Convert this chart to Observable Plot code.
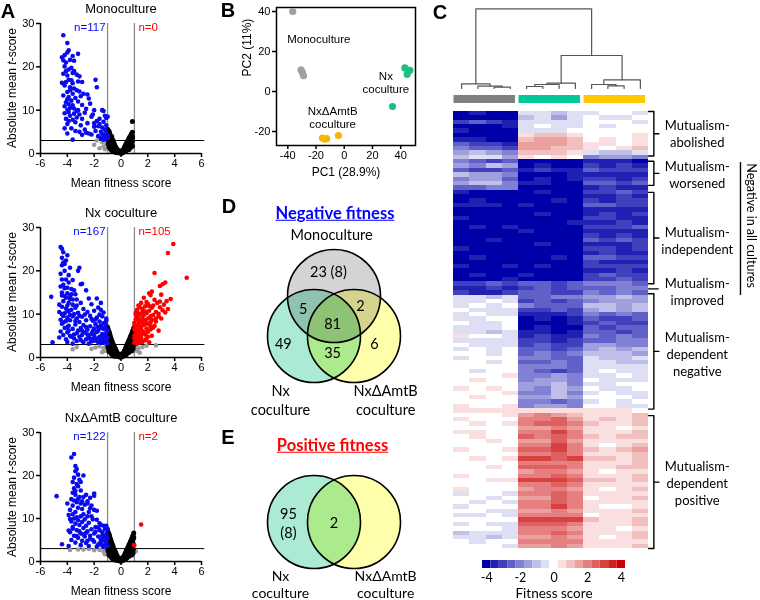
<!DOCTYPE html>
<html><head><meta charset="utf-8">
<script src="https://cdn.jsdelivr.net/npm/d3@7"></script>
<script src="https://cdn.jsdelivr.net/npm/@observablehq/plot@0.6"></script>
<style>
body{margin:0;background:#fff;}
#fig{position:relative;width:760px;height:600px;overflow:hidden;font-family:"Liberation Sans",Arial,sans-serif;}
.lab{position:absolute;transform:translate(-50%,-50%);white-space:nowrap;line-height:1;}
</style></head><body><div id="fig"></div>
<script>
// ---------------- DATA ----------------
const volcanoXTicks = [-6,-4,-2,0,2,4,6];
const volcanoYTicks = [0,10,20,30];
const tThreshold = 3;
const fitThreshold = [-1, 1];

const monoBlue = [[-4.3,27.3],[-4.0,25.5],[-3.9,23.8],[-4.0,23.3],[-4.4,22.2],[-4.2,22.7],[-4.3,21.5],[-4.1,21.0],[-3.2,23.0],[-3.6,22.5],[-3.8,21.6],[-3.5,21.4],[-4.2,20.1],[-3.7,19.8],[-3.9,19.4],[-3.5,19.0],[-4.3,18.4],[-4.0,18.0],[-3.6,18.6],[-3.3,18.2],[-3.1,17.8],[-3.9,17.0],[-3.7,16.9],[-4.1,16.5],[-3.2,16.6],[-1.9,17.0],[-2.9,16.5],[-4.2,15.7],[-3.8,15.3],[-3.5,15.0],[-3.3,14.6],[-4.0,14.2],[-3.6,13.8],[-3.1,14.3],[-1.8,15.3],[-4.3,13.4],[-3.9,13.0],[-3.4,12.8],[-2.5,13.6],[-4.0,12.5],[-3.7,12.2],[-4.1,11.8],[-3.2,12.0],[-2.4,12.7],[-3.9,11.4],[-3.6,11.1],[-4.2,10.9],[-3.8,10.5],[-2.9,11.2],[-2.3,11.5],[-3.5,10.4],[-4.0,10.1],[-3.2,10.0],[-2.6,10.3],[-2.0,10.0],[-3.9,9.6],[-4.2,9.3],[-3.5,9.2],[-3.1,9.0],[-2.7,9.4],[-1.4,10.0],[-1.3,9.8],[-3.8,8.7],[-3.3,8.3],[-2.2,8.5],[-1.2,8.7],[-1.1,8.2],[-4.1,8.0],[-3.6,7.8],[-2.9,8.0],[-1.6,8.0],[-1.0,8.5],[-3.4,7.2],[-1.8,7.5],[-1.3,7.3],[-2.5,7.0],[-4.0,6.8],[-3.0,6.5],[-1.6,6.8],[-1.1,6.5],[-2.0,6.2],[-1.4,6.0],[-3.7,5.8],[-4.2,5.8],[-2.7,5.5],[-1.2,5.5],[-1.9,5.2],[-3.1,5.0],[-1.5,5.0],[-4.0,4.6],[-2.4,4.6],[-1.1,4.7],[-2.9,4.3],[-1.3,4.2],[-1.7,4.0],[-3.6,3.2],[-1.1,3.8],[-1.5,3.5],[-1.2,3.3],[-2.2,4.4],[-3.3,9.8],[-3.0,13.2],[-4.4,16.3],[-3.6,16.2],[-3.9,7.5],[-2.8,13.8],[-3.4,5.2],[-2.6,4.8],[-1.3,3.2],[-1.0,4.2],[-1.0,3.5],[-2.0,7.0],[-1.7,6.3],[-1.4,4.5],[-3.8,14.6],[-4.1,19.0],[-2.1,9.0]];
const monoRed = [];
const monoGray = [[-2.0,2.0],[-1.8,3.0],[-1.4,2.6],[-1.3,1.6],[-1.6,1.2],[-1.1,2.2],[-1.2,1.0]];
const monoBlack = [[-1.0,5.6],[-0.9,5.2],[-0.95,4.6],[-0.85,4.8],[-0.8,4.2],[-0.9,3.8],[-0.75,3.6],[-0.7,4.0],[-0.65,3.3],[-0.6,3.0],[-0.8,3.2],[-0.7,2.8],[-0.55,2.5],[-0.5,2.2],[-0.6,2.0],[-0.45,1.8],[-0.4,1.5],[-0.5,1.3],[-0.35,1.2],[-0.3,1.0],[-0.25,0.8],[-0.2,0.6],[-0.15,0.4],[-0.1,0.2],[-0.05,0.1],[-0.9,2.9],[-0.95,3.4],[-0.85,2.5],[-0.75,2.2],[-0.65,1.8],[-0.55,1.4],[-0.45,1.0],[-0.35,0.7],[-0.25,0.4],[-0.4,0.3],[-0.3,0.2],[-0.6,1.0],[-0.7,1.5],[-0.8,2.0],[-1.0,4.0],[-1.0,3.2],[0.05,0.2],[0.1,0.5],[0.15,0.8],[0.2,1.0],[0.25,1.4],[0.3,1.7],[0.35,2.0],[0.4,2.3],[0.45,2.6],[0.5,2.9],[0.55,3.2],[0.6,3.5],[0.65,3.8],[0.7,4.0],[0.75,4.3],[0.8,4.6],[0.85,4.9],[0.2,0.4],[0.3,0.9],[0.4,1.3],[0.5,1.8],[0.6,2.2],[0.7,2.8],[0.8,3.4],[0.35,0.5],[0.5,1.0],[0.65,1.5],[0.8,2.0],[0.85,1.7],[0.85,7.4],[0.75,3.0],[0.85,4.0],[0.0,0.05],[0.1,0.1],[-0.1,0.6],[0.05,0.6],[-0.9,1.5],[-0.8,1.1],[-0.7,0.7],[-0.6,0.5],[-0.5,0.4],[-0.95,2.2],[-0.85,3.6],[-0.75,2.9],[-0.65,2.4],[-0.55,1.9],[-0.45,1.4],[-0.35,0.9],[-0.25,0.6],[0.25,0.6],[0.35,1.2],[0.45,1.6],[0.55,2.2],[0.65,2.7],[0.75,3.5],[0.45,0.8],[0.6,0.9],[0.7,1.3],[0.85,2.8],[0.85,3.5],[0.55,1.3],[0.15,0.3],[-0.15,0.15],[-0.9,4.4],[-0.98,5.0],[0.8,4.0]];

const nxBlue = [[-4.5,25.5],[-4.4,25.1],[-4.3,24.3],[-4.0,23.6],[-4.3,21.9],[-4.2,21.6],[-4.4,21.3],[-3.8,20.7],[-3.1,20.7],[-4.2,20.0],[-3.2,20.0],[-4.4,18.0],[-4.1,18.0],[-3.6,17.9],[-2.9,17.0],[-3.0,16.9],[-4.5,16.4],[-4.2,16.0],[-4.0,16.1],[-3.7,15.8],[-3.5,15.5],[-2.6,15.5],[-4.4,15.0],[-4.0,14.8],[-3.4,14.6],[-5.2,14.0],[-4.1,13.8],[-3.8,13.5],[-3.3,13.4],[-2.4,13.6],[-1.8,13.6],[-4.3,13.0],[-3.9,12.6],[-3.6,12.2],[-3.0,12.6],[-2.2,12.3],[-1.5,12.6],[-4.4,11.7],[-4.1,11.3],[-3.7,11.0],[-3.4,11.5],[-2.8,11.2],[-1.7,11.5],[-4.6,10.5],[-4.2,10.2],[-3.9,10.6],[-3.5,10.0],[-3.2,10.3],[-2.5,10.5],[-2.0,10.8],[-1.3,10.4],[-4.3,9.6],[-4.0,9.2],[-3.6,9.5],[-3.3,9.0],[-2.9,9.4],[-2.3,9.6],[-1.8,9.2],[-1.4,9.5],[-1.1,9.0],[-4.5,8.7],[-4.1,8.4],[-3.8,8.6],[-3.1,8.2],[-2.6,8.6],[-2.1,8.5],[-1.6,8.3],[-1.2,8.0],[-4.4,7.8],[-3.9,7.3],[-3.4,7.6],[-2.8,7.5],[-2.3,7.2],[-1.9,7.7],[-1.5,7.4],[-1.1,7.5],[-4.2,6.8],[-3.6,6.6],[-3.0,6.8],[-2.5,6.4],[-2.0,6.7],[-1.7,6.2],[-1.3,6.6],[-1.0,6.3],[-4.5,6.0],[-4.0,5.8],[-3.3,5.6],[-2.7,5.8],[-2.2,5.5],[-1.8,5.9],[-1.4,5.4],[-1.1,5.7],[-3.8,5.0],[-3.1,4.8],[-2.9,5.2],[-2.4,4.9],[-2.0,4.6],[-1.6,4.8],[-1.2,4.6],[-4.1,4.2],[-3.5,4.4],[-2.6,4.2],[-1.9,4.0],[-1.5,4.2],[-1.1,4.0],[-4.0,3.6],[-3.3,3.8],[-2.8,3.5],[-2.2,3.7],[-1.7,3.5],[-1.3,3.4],[-5.1,3.5],[-4.3,5.2],[-3.6,3.2],[-2.4,3.2],[-1.0,3.3],[-1.2,5.1],[-1.5,6.8],[-1.3,7.9],[-1.6,9.9],[-1.9,8.8],[-2.0,5.2],[-1.0,4.6],[-1.4,3.9],[-2.5,5.3],[-3.0,4.0],[-3.9,6.2],[-4.3,8.1],[-4.6,12.2],[-3.8,14.0],[-4.3,16.8],[-4.5,19.3],[-4.2,14.2],[-3.9,17.3],[-3.6,13.4],[-4.0,10.9],[-1.2,6.9],[-1.1,8.5],[-1.7,7.0],[-2.3,4.3],[-3.2,6.2],[-3.7,4.8],[-1.8,4.4],[-1.2,3.8],[-2.7,9.9],[-1.5,11.0],[-2.1,6.1],[-1.4,5.0],[-4.4,23.0],[-4.1,22.4],[-3.9,19.0],[-4.4,14.3],[-3.7,14.6],[-4.0,12.0],[-3.3,12.0],[-4.4,10.0],[-3.8,9.8],[-3.1,9.6],[-4.0,7.0],[-2.6,7.0],[-3.5,5.3],[-2.0,3.9],[-1.5,3.4],[-4.6,4.6],[-2.9,6.2],[-2.2,8.9],[-3.4,8.4]];
const nxRed = [[3.9,26.2],[3.5,24.1],[4.9,18.4],[2.5,19.5],[3.3,17.3],[3.1,16.9],[2.9,16.5],[2.3,15.2],[2.1,14.8],[2.2,14.4],[3.0,14.5],[1.7,13.8],[2.5,13.3],[3.4,13.0],[3.7,13.5],[1.5,12.6],[2.0,12.4],[2.7,12.6],[3.2,12.2],[1.3,12.0],[1.8,11.8],[2.3,11.5],[2.9,11.6],[3.5,11.2],[1.2,11.0],[1.6,11.2],[2.1,10.8],[2.6,10.5],[3.1,10.9],[1.1,10.3],[1.4,10.0],[1.9,10.2],[2.4,9.8],[2.8,9.5],[1.2,9.5],[1.6,9.2],[2.0,9.0],[2.3,8.7],[3.0,9.0],[1.1,8.8],[1.5,8.4],[1.8,8.6],[2.2,8.1],[2.6,8.3],[1.0,8.0],[1.3,7.7],[1.7,7.5],[2.0,7.8],[2.5,7.3],[1.1,7.2],[1.4,6.9],[1.9,6.7],[2.2,6.5],[1.0,6.5],[1.3,6.2],[1.6,6.0],[2.0,5.9],[2.8,6.2],[1.1,5.7],[1.4,5.5],[1.8,5.3],[2.3,5.0],[1.0,5.0],[1.2,4.7],[1.5,4.5],[1.9,4.4],[1.1,4.1],[1.3,3.8],[1.6,3.6],[1.0,3.4],[2.1,3.5],[1.2,3.2],[1.4,4.9],[1.7,5.9],[1.2,6.4],[1.5,7.1],[1.9,7.9],[1.3,8.5],[1.7,9.8],[2.1,11.9],[1.4,11.6],[2.4,12.0],[2.8,10.1],[1.1,9.9],[1.8,10.6],[1.0,7.4],[1.2,5.3],[1.4,3.5],[1.8,4.0],[1.0,4.4],[1.5,6.5],[2.4,6.9],[2.0,4.8],[1.1,6.0],[2.6,9.0],[3.3,10.4],[1.6,8.0],[1.3,9.1],[2.2,9.5],[1.9,12.8],[1.6,10.5],[1.5,5.2],[2.2,7.2],[1.2,10.6],[2.9,12.9]];
const nxGray = [[-3.6,1.9],[-3.3,2.4],[-2.2,2.0],[-1.9,2.3],[-1.6,2.6],[-1.3,2.1],[-1.2,1.5],[-1.1,2.8],[-1.4,1.2],[1.1,2.4],[1.3,2.1],[1.6,2.4],[1.9,2.7],[1.2,1.5],[1.4,1.1],[2.6,2.8]];
const nxBlack = [[-1.0,7.0],[-0.95,6.4],[-0.9,6.0],[-0.98,5.5],[-0.85,5.6],[-0.92,4.8],[-0.8,5.0],[-0.88,4.2],[-0.75,4.5],[-0.7,4.0],[-0.82,3.6],[-0.65,3.6],[-0.6,3.2],[-0.72,3.0],[-0.55,2.8],[-0.5,2.5],[-0.62,2.2],[-0.45,2.2],[-0.4,1.9],[-0.52,1.6],[-0.35,1.5],[-0.3,1.2],[-0.42,1.0],[-0.25,0.9],[-0.2,0.6],[-0.32,0.5],[-0.15,0.4],[-0.1,0.2],[-0.05,0.1],[-0.95,3.2],[-0.85,2.6],[-0.75,2.0],[-0.65,1.5],[-0.55,1.0],[-0.45,0.6],[-0.35,0.3],[-0.9,2.0],[-0.98,2.6],[-1.0,4.0],[-0.6,0.8],[0.05,0.2],[0.1,0.4],[0.15,0.8],[0.2,1.0],[0.25,1.5],[0.3,1.8],[0.35,2.2],[0.4,2.6],[0.45,3.0],[0.5,3.3],[0.55,3.7],[0.6,4.0],[0.65,4.4],[0.7,4.8],[0.75,5.1],[0.8,5.5],[0.85,5.9],[0.9,6.3],[0.95,6.8],[0.2,0.5],[0.3,1.0],[0.4,1.5],[0.5,2.0],[0.6,2.5],[0.7,3.0],[0.8,3.5],[0.9,4.0],[0.95,4.8],[0.35,0.6],[0.5,1.1],[0.65,1.6],[0.8,2.2],[0.9,2.6],[0.98,3.2],[0.85,4.5],[0.75,3.9],[0.0,0.05],[0.1,0.9],[-0.1,0.7],[0.6,1.2],[-0.9,1.4],[-0.8,1.2],[-0.7,0.8],[-0.6,0.5],[-0.5,0.3],[-0.95,2.2],[-0.9,3.5],[-0.85,4.0],[-0.95,4.4],[-0.8,3.0],[-0.75,3.3],[-0.7,2.5],[-0.65,2.8],[-0.55,2.0],[-0.45,1.4],[-0.35,0.9],[-0.25,0.5],[-0.98,5.8],[-0.9,5.2],[0.25,0.7],[0.35,1.3],[0.45,1.9],[0.55,2.4],[0.65,3.0],[0.75,3.4],[0.85,3.0],[0.9,5.2],[0.95,5.8],[0.85,5.2],[0.75,4.5],[0.45,0.9],[0.7,1.8],[0.8,1.5],[0.9,2.0],[0.95,3.8],[0.65,2.2],[0.15,0.3],[-0.15,0.2]];

const amtBlue = [[-3.5,25.0],[-3.7,24.2],[-3.4,22.2],[-3.3,21.5],[-3.4,21.0],[-3.2,20.2],[-2.8,20.0],[-3.5,19.5],[-3.1,19.0],[-3.6,18.5],[-3.3,18.0],[-2.0,15.8],[-2.0,15.3],[-3.5,17.0],[-3.2,17.5],[-3.0,16.5],[-3.6,16.0],[-3.4,15.5],[-2.6,15.5],[-4.8,15.2],[-3.1,15.0],[-2.3,14.8],[-3.7,14.5],[-2.9,14.0],[-3.3,13.8],[-2.5,13.5],[-4.0,13.5],[-2.7,13.2],[-2.2,13.0],[-3.6,13.0],[-3.2,12.5],[-2.0,12.0],[-3.8,12.0],[-1.8,11.8],[-3.4,11.5],[-2.8,11.0],[-3.9,10.8],[-3.0,10.5],[-2.5,10.5],[-3.5,10.0],[-2.1,9.8],[-3.2,9.6],[-1.8,9.7],[-3.7,9.3],[-2.9,9.2],[-2.4,9.0],[-1.5,8.5],[-1.3,8.3],[-1.1,8.3],[-3.4,8.8],[-3.1,8.5],[-2.6,8.3],[-1.9,8.0],[-3.6,8.0],[-2.8,7.8],[-2.2,7.5],[-1.6,7.3],[-1.2,7.5],[-3.3,7.3],[-2.5,7.0],[-1.4,6.8],[-3.8,6.8],[-3.0,6.5],[-2.0,6.5],[-1.1,6.3],[-3.5,6.0],[-2.7,5.8],[-1.7,5.8],[-1.3,5.6],[-3.2,5.5],[-2.3,5.3],[-1.5,5.1],[-1.0,5.4],[-3.7,5.0],[-2.9,4.8],[-2.0,4.6],[-1.2,4.8],[-3.4,4.4],[-2.6,4.3],[-1.6,4.2],[-1.1,4.0],[-4.4,4.0],[-3.9,3.6],[-3.0,3.8],[-2.4,3.6],[-1.8,3.5],[-1.3,3.4],[-3.6,11.0],[-3.3,10.3],[-2.9,12.2],[-2.7,9.8],[-2.4,11.5],[-3.5,14.2],[-2.2,10.5],[-1.9,6.9],[-1.4,6.0],[-2.1,5.0],[-2.8,6.3],[-3.1,7.0],[-3.6,7.6],[-1.6,8.9],[-1.0,7.6],[-1.2,5.9],[-1.5,4.6],[-2.5,4.8],[-3.3,5.9],[-1.7,3.9],[-1.0,3.6],[-2.8,15.0],[-3.0,18.5],[-3.4,16.4],[-3.0,13.5],[-2.3,12.4],[-1.7,7.9],[-2.6,6.7],[-1.1,4.5],[-3.8,9.9],[-2.5,14.0],[-1.4,3.8],[-3.2,14.5],[-2.3,6.0],[-3.9,7.2]];
const amtRed = [[1.5,8.6],[0.98,3.8]];
const amtGray = [[-3.8,2.7],[-3.2,2.8],[-2.8,2.8],[-2.4,2.9],[-2.0,2.6],[-1.6,2.7],[-1.3,2.3],[-1.2,1.7],[-1.1,2.9],[1.1,2.4]];
const amtBlack = [[-1.0,7.3],[-0.95,6.8],[-0.9,6.4],[-0.98,6.0],[-0.85,6.0],[-0.92,5.2],[-0.8,5.4],[-0.88,4.6],[-0.75,4.9],[-0.7,4.4],[-0.82,3.9],[-0.65,4.0],[-0.6,3.6],[-0.72,3.3],[-0.55,3.1],[-0.5,2.8],[-0.62,2.5],[-0.45,2.4],[-0.4,2.1],[-0.52,1.8],[-0.35,1.7],[-0.3,1.4],[-0.42,1.1],[-0.25,1.0],[-0.2,0.7],[-0.32,0.6],[-0.15,0.5],[-0.1,0.3],[-0.05,0.1],[-0.95,3.4],[-0.85,2.8],[-0.75,2.2],[-0.65,1.6],[-0.55,1.1],[-0.45,0.7],[-0.35,0.3],[-0.9,2.2],[-1.0,4.5],[-0.98,2.8],[-0.6,0.9],[0.05,0.2],[0.1,0.5],[0.15,0.8],[0.2,1.1],[0.25,1.4],[0.3,1.8],[0.35,2.1],[0.4,2.5],[0.45,2.8],[0.5,3.2],[0.55,3.5],[0.6,3.9],[0.65,4.2],[0.7,4.6],[0.75,4.9],[0.8,5.3],[0.85,5.7],[0.9,6.1],[0.95,6.6],[0.2,0.5],[0.3,1.0],[0.4,1.5],[0.5,2.0],[0.6,2.5],[0.7,3.0],[0.8,3.5],[0.9,4.2],[0.35,0.6],[0.5,1.1],[0.65,1.6],[0.8,2.2],[0.92,2.8],[0.85,4.6],[0.75,3.9],[0.0,0.05],[0.1,0.9],[-0.1,0.7],[0.6,1.2],[-0.9,1.5],[-0.8,1.3],[-0.7,0.9],[-0.6,0.5],[-0.5,0.4],[-0.95,2.4],[-0.9,3.8],[-0.85,4.3],[-0.95,4.8],[-0.8,3.2],[-0.75,3.5],[-0.7,2.7],[-0.65,3.0],[-0.55,2.1],[-0.45,1.5],[-0.35,1.0],[-0.25,0.5],[-0.98,6.5],[-0.9,5.6],[0.25,0.7],[0.35,1.3],[0.45,1.9],[0.55,2.4],[0.65,3.0],[0.75,3.4],[0.85,3.1],[0.9,5.2],[0.95,5.6],[0.85,5.0],[0.75,4.4],[0.45,0.9],[0.7,1.8],[0.8,1.5],[0.9,2.0],[0.95,3.8],[0.65,2.2],[0.15,0.3],[-0.15,0.2]];

// PCA
const pcaTicksX = [-40,-20,0,20,40];
const pcaTicksY = [-20,0,20,40];
const pcaMono = [[-36.5,40],[-30.6,10.8],[-29.6,9.4],[-28.8,7.9]];
const pcaNx = [[43,11.8],[46.5,10.6],[44.6,8.6],[34.2,-7.5]];
const pcaAmt = [[-15.5,-23.3],[-13.6,-23.8],[-12.4,-23.6],[-4.1,-22]];
const pcaLabels = [{x:-18,y:26.5,t:"Monoculture"},{x:29.5,y:4.8,t:"Nx\ncoculture"},{x:-8.2,y:-12.8,t:"NxΔAmtB\ncoculture"}];

// Heatmap: one string per gene row; 12 columns (4 Mono, 4 Nx, 4 NxΔAmtB)
// letter code: a=-4, b=-3.5, ... i=0 ... q=+4 (steps of 0.5)
const heatRows = [
"abaahhghhiih","aaaaghfhihhi","cdcbhhhhiiih","aaabhihhihii","baaahhhiiiii","aaaajkkjiiij",
"bbaakllkijij","dccblllkjjij","eddcllkkjijk","fgfekkkjhggh","ghhfjijieffe",
"edcdaaaabbba","fegfabaacbcb","dccdbcbbdccc","gffeaaabbbbb","effdababccbc","fggebbaaddcd","ddeeaaaabcbb",
"baaaabaaccdc","aaaaaaaabbcb","abaaaabacbcc","bbbabaaaddcc","aaaaaaaabbbb","aaaaabaabcbc","baaaaaaaccbb",
"aaaaaaabbbcb","ababaaaacccd","aaaabaaabbbb","aaaaaaaacbcb","aabaaaaadcdc","aaaaabaabbbc","baaaaaaaccbc",
"aaaaaaaabcbb","abaaaabaddcc","aaaaaaaacbbb","baababaacccc","aaaaaaaabbcb","abaabaaacdcc","aaabaaaaccdc",
"ccdcddcdeeed","bbcbcdcdddee","cbbcddcceded",
"hhghddeeffgf","hhihcdcdefff","hihiedddggfg","ihhhccdcfgfg","hihhbbbceded","hhiiababdccd","ihhiaaabcdcc",
"hhhiabaadcdd","hhghbbabddcd","jiihbcbbeded","hhhhccbcddee","ihhhcdccffee","hihiddcdfgfg","iihidedegggf",
"hiiieeddhggh","iihiddedhhgg","iiiieeedhhhh","ihiiedcdhihh","iiijeefehhih","ijiieffeihhh","iiiiffgehhii",
"jijifegfihhi","iiijeegehihh","ijiiffgfiiih","iiiieedehihi","jiijeffeiihh","jjjjjjjjjjji",
"iiijlmlkjjjk","jiiimmnljkjk","ijijmnnmkjjk","iiiillmljjij","jjiimmomjjjk","ijiinmnmkjkk","iijillnljjjj",
"iiiimmomjijk","jiijnnomkjkl","iiiimmnmjjjk","ijijoonokkjk","iiiimmmmjjjk","iijinnnmjjkk","iiiilmmljijj",
"jiiimmnmjjjk","iijjooonkkjk","iiiimmnmjjjj","jiiilmmljijk","hiihmmnmjjjj","iihillnmijjk","ihihmmnmjjjj",
"hiiimmomjiij","iihhllmljjjk","hhihmmmmijjj","iiiiooookjjk","hihhnnnmjjjk","iiihmmmljjij","ghhhmmnmjjjk",
"hhghllmljijk","ihiimmmmjjjj","iiihllmljjjk"];
const levelCode = "abcdefghijklmnopq";
const conditions = ["Monoculture","Nx coculture","NxΔAmtB coculture"];
const conditionColors = ["#808080","#00c896","#ffc800"];
const rowGroups = [
  {name:"Mutualism-\nabolished", r0:0, r1:10.2, mid:4.9},
  {name:"Mutualism-\nworsened", r0:11.4, r1:16.9, mid:14.3},
  {name:"Mutualism-\nindependent", r0:18.5, r1:39.4, mid:29.4},
  {name:"Mutualism-\nimproved", r0:40.6, r1:40.6, mid:41.1},
  {name:"Mutualism-\ndependent\nnegative", r0:41.7, r1:68.1, mid:55.4},
  {name:"Mutualism-\ndependent\npositive", r0:69.6, r1:100, mid:84.9}];
const negAllSpan = [11.7, 42.1];
// dendrogram merges: [left child, right child, height]; ids 0-11 are columns
const merges = [[2,3,1.3],[1,12,2.3],[0,13,4.7],[4,5,2.0],[15,6,4.0],[16,7,5.3],[9,10,2.7],[8,18,4.0],[19,11,8.7],[17,20,33],[14,21,79.7]];
const legendTicks = [-4,-2,0,2,4];
const legendSteps = [-4,-3.5,-3,-2.5,-2,-1.5,-1,-0.5,0,0.5,1,1.5,2,2.5,3,3.5,4];

// Venn (unit = circle radius)
const vennNegCircles = [{x:0,y:0.86,fill:"#d4d4d4"},{x:-0.43,y:0,fill:"#abebd3"},{x:0.43,y:0,fill:"#ffffab"}];
const vennNegCounts = [{x:-0.12,y:1.41,t:"23 (8)"},{x:-0.66,y:0.61,t:"5"},{x:0.57,y:0.66,t:"2"},{x:-0.03,y:0.29,t:"81"},{x:-1.09,y:-0.14,t:"49"},{x:-0.03,y:-0.35,t:"35"},{x:0.87,y:-0.14,t:"6"}];
const vennNegNames = [{x:-0.05,y:2.18,t:"Monoculture"},{x:-1.15,y:-1.37,t:"Nx\ncoculture"},{x:1.11,y:-1.37,t:"NxΔAmtB\ncoculture"}];
const vennPosCircles = [{x:-0.43,y:0,fill:"#abebd3"},{x:0.43,y:0,fill:"#ffffab"}];
const vennPosCounts = [{x:-0.98,y:0,t:"95\n(8)"},{x:0,y:0,t:"2"}];
const vennPosNames = [{x:-1.15,y:-1.33,t:"Nx\ncoculture"},{x:1.11,y:-1.33,t:"NxΔAmtB\ncoculture"}];

// ---------------- DRAWING ----------------
const fig = document.getElementById("fig");
const ARIAL = "Liberation Sans, Arial, sans-serif";
const CAL = "Lato, 'Open Sans', sans-serif";
const baseStyle = {fontFamily: ARIAL, fontSize: "11px", background: "transparent", overflow: "visible", color: "#000"};
function put(el, left, top) { el.style.position = "absolute"; el.style.left = left + "px"; el.style.top = top + "px"; fig.appendChild(el); return el; }
function label(html, x, y, css) { const d = document.createElement("div"); d.className = "lab"; d.innerHTML = html; d.style.left = x + "px"; d.style.top = y + "px"; if (css) d.style.cssText += css; fig.appendChild(d); return d; }
const X = d => d[0], Y = d => d[1];

function volcano(o) {
  const svg = Plot.plot({
    width: 210, height: o.h, marginLeft: 40, marginRight: 9, marginTop: o.mt, marginBottom: o.mb,
    x: {domain: [-6, 6]}, y: {domain: [0, 30]}, style: baseStyle,
    marks: [
      Plot.ruleX(fitThreshold, {y1: 0, y2: 30, stroke: "#8c8c8c", strokeWidth: 1.3}),
      Plot.ruleY([tThreshold], {x1: -6, x2: 6.25, stroke: "#000", strokeWidth: 1}),
      Plot.dot(o.gray, {x: X, y: Y, r: 2.3, fill: "#9a9a9a"}),
      Plot.dot(o.black, {x: X, y: Y, r: 2.5, fill: "#000"}),
      Plot.dot(o.blue, {x: X, y: Y, r: 2.3, fill: "#0a0aee"}),
      Plot.dot(o.red, {x: X, y: Y, r: 2.3, fill: "#ff0000"}),
      Plot.ruleX([-6], {y1: 0, y2: 30, strokeWidth: 1.5}),
      Plot.ruleY([0], {x1: -6, x2: 6, strokeWidth: 1.5}),
      Plot.axisX({ticks: volcanoXTicks, tickSize: 4, tickPadding: 2, strokeWidth: 1.5, tickFormat: d => String(d), label: null, fontSize: 11}),
      Plot.axisY({ticks: volcanoYTicks, tickSize: 4, tickPadding: 2, strokeWidth: 1.5, tickFormat: d => String(d), label: null, fontSize: 11}),
      Plot.text([`n=${o.blue.length}`], {x: -1.15, y: 29.1, textAnchor: "end", fill: "#0a0aee", fontSize: 11.5}),
      Plot.text([`n=${o.red.length}`], {x: 1.3, y: 29.1, textAnchor: "start", fill: "#ff0000", fontSize: 11.5}),
      Plot.text([o.title], {frameAnchor: "top", lineAnchor: "middle", dy: -15, fontSize: 13}),
      Plot.text(["Mean fitness score"], {frameAnchor: "bottom", lineAnchor: "middle", dy: 30, fontSize: 12})
    ]
  });
  put(svg, 0, o.top);
  label("Absolute mean <i>t</i>-score", 12, o.top + (o.mt + o.h - o.mb) / 2, "transform:translate(-50%,-50%) rotate(-90deg);font-size:12px;");
}
volcano({title: "Monoculture", blue: monoBlue, red: monoRed, gray: monoGray, black: monoBlack, top: 0, h: 195, mt: 23, mb: 42});
volcano({title: "Nx coculture", blue: nxBlue, red: nxRed, gray: nxGray, black: nxBlack, top: 195, h: 200, mt: 32, mb: 38});
volcano({title: "NxΔAmtB coculture", blue: amtBlue, red: amtRed, gray: amtGray, black: amtBlack, top: 395, h: 205, mt: 37, mb: 39});

// PCA
const pcaPts = [...pcaMono.map(d => ({x: d[0], y: d[1], g: 0})), ...pcaNx.map(d => ({x: d[0], y: d[1], g: 1})), ...pcaAmt.map(d => ({x: d[0], y: d[1], g: 2}))];
const pcaColors = ["#a0a0a0", "#1dbf80", "#f7b500"];
put(Plot.plot({
  width: 220, height: 185, marginLeft: 76, marginRight: 5, marginTop: 7, marginBottom: 40,
  x: {domain: [-48, 50.5]}, y: {domain: [-27, 42]}, style: baseStyle,
  marks: [
    Plot.frame({strokeWidth: 1.5}),
    Plot.axisX({ticks: pcaTicksX, tickSize: 4, tickPadding: 2, strokeWidth: 1.5, tickFormat: d => String(d), label: null, fontSize: 11}),
    Plot.axisY({ticks: pcaTicksY, tickSize: 4, tickPadding: 2, strokeWidth: 1.5, tickFormat: d => String(d), label: null, fontSize: 11}),
    Plot.dot(pcaPts, {x: "x", y: "y", r: 3.6, fill: d => pcaColors[d.g]}),
    Plot.text(pcaLabels, {x: "x", y: "y", text: "t", fontSize: 11.5, lineHeight: 1.15}),
    Plot.text(["PC1 (28.9%)"], {frameAnchor: "bottom", lineAnchor: "middle", dy: 27, fontSize: 12}),
    Plot.text(["PC2 (11%)"], {frameAnchor: "left", dx: -29, rotate: -90, fontSize: 12})
  ]
}), 200, 0);

// Heatmap
const nRows = heatRows.length;
const cells = [];
heatRows.forEach((s, r) => { for (let c = 0; c < 12; c++) cells.push({r, c, v: (levelCode.indexOf(s[c]) - 8) * 0.5}); });
const colorScale = {type: "linear", domain: [-4, 0, 4], range: ["#0000a8", "#ffffff", "#cc0000"]};
const bracketLines = [];
rowGroups.forEach((g, i) => {
  if (g.r1 > g.r0) {
    bracketLines.push({z: i + "a", x: 12, y: g.r0}, {z: i + "a", x: 12.33, y: g.r0}, {z: i + "a", x: 12.33, y: g.r1}, {z: i + "a", x: 12, y: g.r1});
    bracketLines.push({z: i + "b", x: 12.33, y: (g.r0 + g.r1) / 2}, {z: i + "b", x: 12.64, y: (g.r0 + g.r1) / 2});
  } else {
    bracketLines.push({z: i + "a", x: 12, y: g.r0}, {z: i + "a", x: 12.6, y: g.r0});
  }
});
put(Plot.plot({
  width: 320, height: 450, marginLeft: 13, marginRight: 112, marginTop: 6, marginBottom: 7,
  x: {domain: [0, 12], axis: null}, y: {domain: [0, nRows], reverse: true, axis: null},
  color: colorScale, style: baseStyle,
  marks: [
    Plot.rect(cells, {x1: "c", x2: d => d.c + 1, y1: "r", y2: d => d.r + 1, fill: "v", shapeRendering: "crispEdges"}),
    Plot.line(bracketLines, {x: "x", y: "y", z: "z", stroke: "#000", strokeWidth: 1.4}),
    Plot.text(rowGroups, {x: 15.0, y: "mid", text: "name", fontFamily: CAL, fontSize: 13, lineHeight: 1.3}),
    Plot.ruleX([17.66], {y1: negAllSpan[0], y2: negAllSpan[1], stroke: "#000", strokeWidth: 1.4}),
    Plot.text(["Negative in all cultures"], {x: 18.3, y: (negAllSpan[0] + negAllSpan[1]) / 2 - 0.8, rotate: 90, fontFamily: CAL, fontSize: 12.5})
  ]
}), 440, 105);

// Dendrogram + condition bars
const nodeX = d3.range(12).map(i => i + 0.5), nodeH = d3.range(12).map(() => 0);
const dendro = [];
merges.forEach(([a, b, h], k) => {
  const id = 12 + k;
  nodeX[id] = (nodeX[a] + nodeX[b]) / 2; nodeH[id] = h;
  dendro.push({z: id, x: nodeX[a], y: nodeH[a]}, {z: id, x: nodeX[a], y: h}, {z: id, x: nodeX[b], y: h}, {z: id, x: nodeX[b], y: nodeH[b]});
});
put(Plot.plot({
  width: 320, height: 105, marginLeft: 13, marginRight: 112, marginTop: 0, marginBottom: 0,
  x: {domain: [0, 12], axis: null}, y: {domain: [-17, 88], axis: null}, style: baseStyle,
  marks: [
    Plot.line(dendro, {x: "x", y: "y", z: "z", stroke: "#555", strokeWidth: 1.2}),
    Plot.rect(conditions, {x1: (d, i) => i * 4, x2: (d, i) => i * 4 + 4, y1: -7, y2: -15, fill: (d, i) => conditionColors[i], insetLeft: 0.5, insetRight: 3})
  ]
}), 440, 0);

// Color legend
put(Plot.plot({
  width: 320, height: 45, marginLeft: 42, marginRight: 135, marginTop: 5, marginBottom: 32,
  x: {domain: [-4.25, 4.25], axis: null}, color: colorScale, style: baseStyle,
  marks: [
    Plot.rect(legendSteps, {x1: d => d - 0.25, x2: d => d + 0.25, fill: d => d}),
    Plot.text(legendTicks, {x: d => d, text: d => String(d), frameAnchor: "bottom", lineAnchor: "middle", dy: 9, fontFamily: CAL, fontSize: 12.5}),
    Plot.text(["Fitness score"], {x: [0], frameAnchor: "bottom", lineAnchor: "middle", dy: 25, fontFamily: CAL, fontSize: 13.5})
  ]
}), 440, 555);

// Venn diagrams
function venn(circles, counts, names, left, top, h, yTop, fs) {
  const R = 46.5, W = 220;
  const x0 = -113.5 / R, x1 = (W - 113.5) / R;
  put(Plot.plot({
    width: W, height: h, margin: 0,
    x: {domain: [x0, x1], axis: null}, y: {domain: [yTop - h / R, yTop], axis: null}, style: baseStyle,
    marks: [
      Plot.dot(circles, {x: "x", y: "y", r: R, fill: "fill", mixBlendMode: "multiply"}),
      Plot.dot(circles, {x: "x", y: "y", r: R, stroke: "#000", strokeWidth: 1.6, fill: "none"}),
      Plot.text(counts, {x: "x", y: "y", text: "t", fontFamily: CAL, fontSize: 14.5, lineHeight: 1.33}),
      Plot.text(names, {x: "x", y: "y", text: "t", fontFamily: CAL, fontSize: fs, lineHeight: 1.25})
    ]
  }), left, top);
}
venn(vennNegCircles, vennNegCounts, vennNegNames, 220, 195, 225, 140.5 / 46.5, 14.5);
venn(vennPosCircles, vennPosCounts, vennPosNames, 220, 420, 180, 101.5 / 46.5, 14);

// Titles / panel letters
label("Negative fitness", 335, 213, `font-family:${CAL};font-weight:bold;font-size:16.5px;color:#0000ff;text-decoration:underline;`);
label("Positive fitness", 332.5, 445, `font-family:${CAL};font-weight:bold;font-size:16.5px;color:#ff0000;text-decoration:underline;`);
[["A", 8, 11], ["B", 228, 10], ["C", 440, 12], ["D", 229, 206], ["E", 228, 437]].forEach(([t, x, y]) =>
  label(t, x, y, "font-weight:bold;font-size:20px;"));
</script></body></html>
